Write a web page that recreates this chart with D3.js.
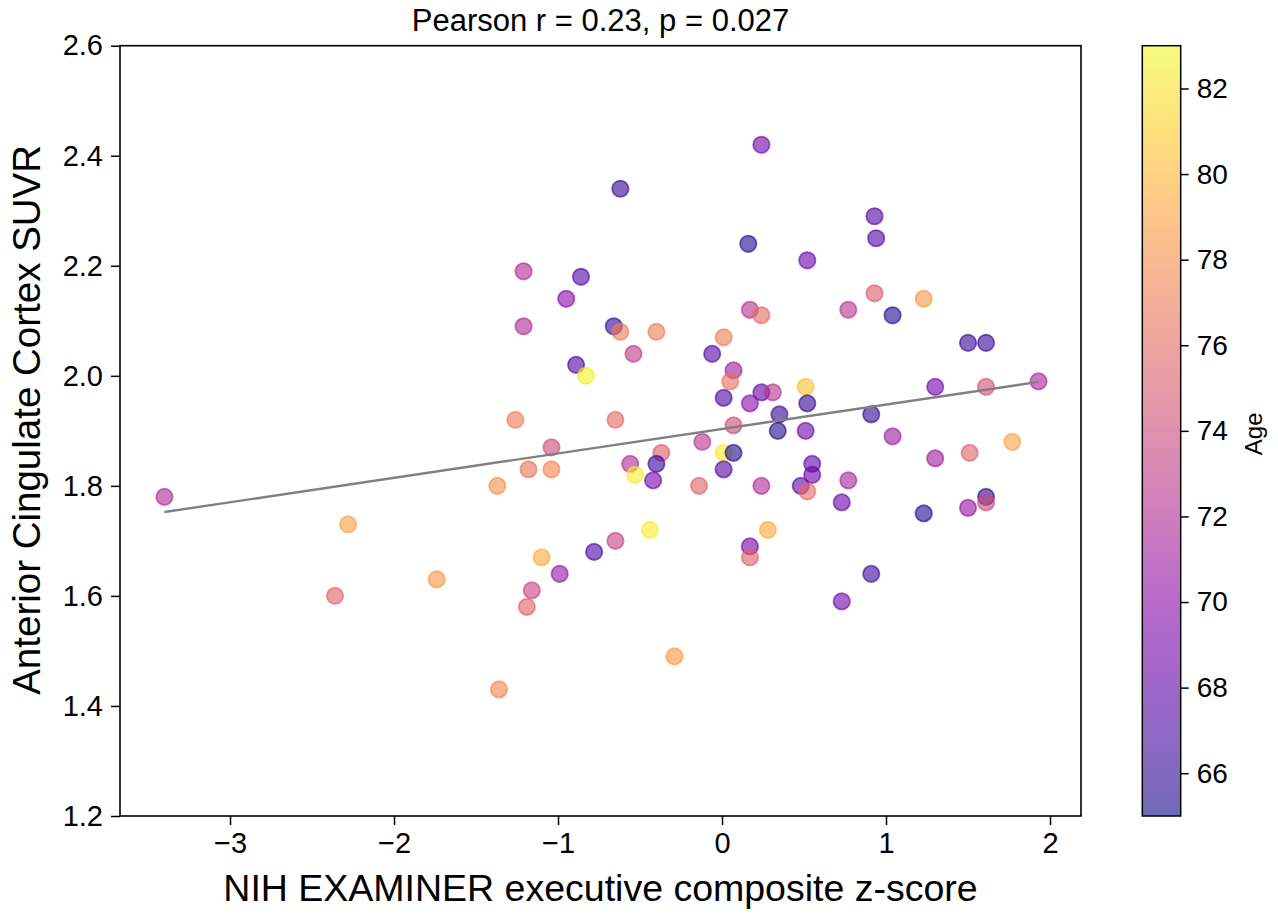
<!DOCTYPE html>
<html>
<head>
<meta charset="utf-8">
<script src="https://cdn.jsdelivr.net/npm/d3@7"></script>
<style>
  html, body { margin: 0; padding: 0; background: #fff; }
  svg text { font-family: "Liberation Sans", Arial, Helvetica, sans-serif; fill: #000; }
</style>
</head>
<body>
<svg id="chart" width="1278" height="916"></svg>
<script>
// ---- data ----
const zScore = [-3.40,-2.28,-2.36,-1.74,0.24,-0.62,0.16,-1.21,-0.86,-0.95,-1.21,-0.66,-0.62,-0.40,0.17,0.24,0.01,-0.06,-0.54,-0.89,0.07,
  -0.83,0.05,0.01,0.24,0.31,0.17,0.35,0.34,-1.26,-0.65,0.07,-0.12,-1.04,-0.37,0.01,0.07,-1.18,-1.04,-0.56,-0.40,-0.53,-0.42,0.01,-1.37,-0.14,0.24,
  -0.44,0.28,-0.65,-0.78,0.17,0.17,-1.10,-0.99,-1.16,-1.19,-0.29,-1.36,
  0.93,0.94,0.52,0.93,0.77,1.04,1.23,1.50,1.61,0.51,0.52,1.30,1.61,1.93,0.91,0.51,1.04,
  1.77,1.51,1.30,0.55,0.55,0.77,0.48,0.52,0.73,1.23,1.50,1.61,1.61,0.91,0.73];
const suvr = [1.78,1.73,1.60,1.63,2.42,2.34,2.24,2.19,2.18,2.14,2.09,2.09,2.08,2.08,2.12,2.11,2.07,2.04,2.04,2.02,2.01,
  2.00,1.99,1.96,1.97,1.97,1.95,1.93,1.90,1.92,1.92,1.91,1.88,1.87,1.86,1.86,1.86,1.83,1.83,1.84,1.84,1.82,1.81,1.83,1.80,1.80,1.80,
  1.72,1.72,1.70,1.68,1.69,1.67,1.67,1.64,1.61,1.58,1.49,1.43,
  2.29,2.25,2.21,2.15,2.12,2.11,2.14,2.06,2.06,1.98,1.95,1.98,1.98,1.99,1.93,1.90,1.89,
  1.88,1.86,1.85,1.84,1.82,1.81,1.80,1.79,1.77,1.75,1.76,1.78,1.77,1.64,1.59];
const age = [72,79,75.5,78.5,69,66,65.5,72,67.5,70,72,66,77,77,72.5,76,77,67.5,73,67.5,71,
  82.5,76.5,67,68,72.5,70,66,65.5,77,76,74,72.5,74,75,82.5,65.5,76.5,77.5,72,66.5,82.5,69,67.5,78,75.5,72,
  82.5,79.5,73.5,67,69,75.5,79.5,70.5,73.5,75.5,78.5,77.5,
  67.5,67.5,68.5,75,72.5,65.5,78.5,66.5,66.5,80.5,66,69,74.5,71.5,66,69,71,
  79,75.5,71,68,68.5,71.5,68,76,68.5,65.5,70.5,65.5,74,66.5,69];
const fitX = [-3.40, 1.93];
const fitY = [1.7525, 1.989];
const xTicks = [-3,-2,-1,0,1,2];
const yTicks = [1.2,1.4,1.6,1.8,2.0,2.2,2.4,2.6];
const ageTicks = [66,68,70,72,74,76,78,80,82];
const ageDomain = [65, 83];
const titleText = "Pearson r = 0.23, p = 0.027";
const xLabel = "NIH EXAMINER executive composite z-score";
const yLabel = "Anterior Cingulate Cortex SUVR";
const cLabel = "Age";

// ---- layout ----
const svg = d3.select("#chart");
const L = 120, R = 1081, T = 45.7, B = 816;
const x = d3.scaleLinear().domain([-3.671, 2.189]).range([L, R]);
const y = d3.scaleLinear().domain([1.2, 2.6]).range([B, T]);
const color = d3.scaleSequential(d3.interpolatePlasma).domain(ageDomain);
const ALPHA = 0.6;
const minusFmt = d => (d < 0 ? "\u2212" + Math.abs(d) : String(d));

// points
const pts = zScore.map((v, i) => ({ x: v, y: suvr[i], a: age[i] }));
svg.append("g").selectAll("circle").data(pts).join("circle")
  .attr("cx", d => x(d.x)).attr("cy", d => y(d.y)).attr("r", 8.2)
  .attr("fill", d => color(d.a)).attr("fill-opacity", ALPHA)
  .attr("stroke", d => color(d.a)).attr("stroke-opacity", ALPHA)
  .attr("stroke-width", 1.8);

// regression line
svg.append("path")
  .datum(fitX.map((v, i) => [v, fitY[i]]))
  .attr("d", d3.line().x(d => x(d[0])).y(d => y(d[1])))
  .attr("fill", "none").attr("stroke", "#808080").attr("stroke-width", 2.4);

// axes
const fontTick = 29;
const xAxis = svg.append("g").attr("transform", `translate(0,${B})`)
  .call(d3.axisBottom(x).tickValues(xTicks).tickFormat(minusFmt).tickSize(9).tickPadding(7));
const yAxis = svg.append("g").attr("transform", `translate(${L},0)`)
  .call(d3.axisLeft(y).tickValues(yTicks).tickFormat(d3.format(".1f")).tickSize(9).tickPadding(8));
[xAxis, yAxis].forEach(g => {
  g.select(".domain").remove();
  g.selectAll(".tick line").attr("stroke", "#000").attr("stroke-width", 1.5);
  g.selectAll(".tick text").attr("font-size", fontTick).attr("fill", "#000")
    .style("font-family", '"Liberation Sans", Arial, sans-serif');
});
// frame
svg.append("rect").attr("x", L).attr("y", T).attr("width", R - L).attr("height", B - T)
  .attr("fill", "none").attr("stroke", "#000").attr("stroke-width", 1.6);

// labels
svg.append("text").attr("x", (L + R) / 2).attr("y", 31).attr("text-anchor", "middle")
  .attr("font-size", 31).text(titleText);
svg.append("text").attr("x", (L + R) / 2).attr("y", 901).attr("text-anchor", "middle")
  .attr("font-size", 37.5).text(xLabel);
svg.append("text").attr("transform", `translate(40,${(T + B) / 2 - 11}) rotate(-90)`)
  .attr("text-anchor", "middle").attr("font-size", 38.5).text(yLabel);

// colorbar
const CL = 1142.3, CR = 1180.7;
const cy = d3.scaleLinear().domain(ageDomain).range([B, T]);
const defs = svg.append("defs");
const grad = defs.append("linearGradient").attr("id", "plasmaGrad")
  .attr("x1", 0).attr("y1", 1).attr("x2", 0).attr("y2", 0);
d3.range(0, 1.0001, 0.02).forEach(t => {
  grad.append("stop").attr("offset", t).attr("stop-color", d3.interpolatePlasma(t)).attr("stop-opacity", ALPHA);
});
svg.append("rect").attr("x", CL).attr("y", T).attr("width", CR - CL).attr("height", B - T)
  .attr("fill", "url(#plasmaGrad)").attr("stroke", "#000").attr("stroke-width", 1.5);
const cAxis = svg.append("g").attr("transform", `translate(${CR},0)`)
  .call(d3.axisRight(cy).tickValues(ageTicks).tickFormat(d3.format("d")).tickSize(8).tickPadding(8));
cAxis.select(".domain").remove();
cAxis.selectAll(".tick line").attr("stroke", "#000").attr("stroke-width", 1.5);
cAxis.selectAll(".tick text").attr("font-size", 28).attr("fill", "#000")
  .style("font-family", '"Liberation Sans", Arial, sans-serif');
svg.append("text").attr("transform", `translate(1262,${(T + B) / 2 + 3}) rotate(-90)`)
  .attr("text-anchor", "middle").attr("font-size", 24).text(cLabel);
</script>
</body>
</html>
